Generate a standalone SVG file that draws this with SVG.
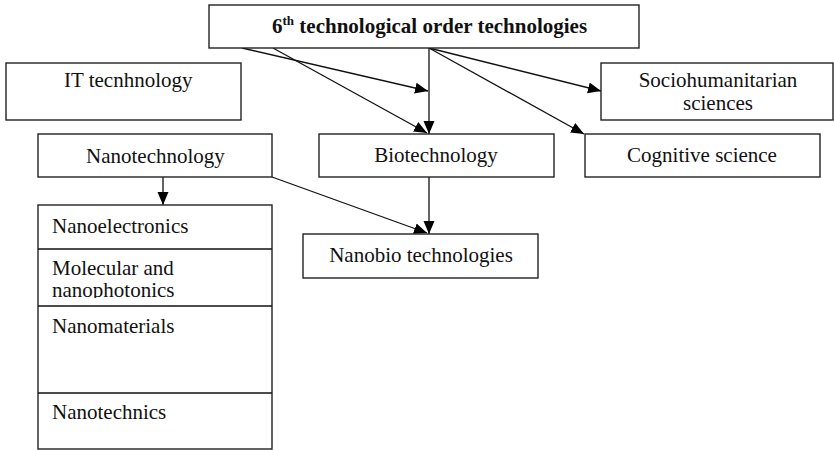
<svg xmlns="http://www.w3.org/2000/svg" width="834" height="450" viewBox="0 0 834 450">
<style>
.box{fill:#fff;stroke:#222;stroke-width:1.4}
.t{font-family:"Liberation Serif","Times New Roman",serif;font-size:21px;fill:#111}
.b{font-weight:bold}
.c{text-anchor:middle}
.ln{stroke:#111;stroke-width:1.3;fill:none}
</style>
<defs>
<marker id="ah" markerUnits="userSpaceOnUse" markerWidth="14" markerHeight="12" refX="13" refY="6" orient="auto">
<path d="M0,0.5 L13,6 L0,11.5 z" fill="#000"/>
</marker>
<clipPath id="clipMol"><rect x="38" y="249" width="234" height="49"/></clipPath>
</defs>
<rect width="834" height="450" fill="#fff"/>
<g id="connectors">
<line class="ln" x1="242" y1="48" x2="428" y2="91" marker-end="url(#ah)"/>
<line class="ln" x1="273" y1="48" x2="427" y2="133" marker-end="url(#ah)"/>
<line class="ln" x1="429" y1="48" x2="429" y2="134" marker-end="url(#ah)"/>
<line class="ln" x1="429" y1="48" x2="601" y2="91" marker-end="url(#ah)"/>
<line class="ln" x1="429" y1="48" x2="584" y2="134" marker-end="url(#ah)"/>
<line class="ln" x1="163" y1="177" x2="163" y2="205" marker-end="url(#ah)"/>
<line class="ln" x1="429" y1="177" x2="429" y2="234" marker-end="url(#ah)"/>
<line class="ln" x1="272" y1="177" x2="427" y2="233" marker-end="url(#ah)"/>
</g>
<g id="top">
<rect class="box" x="209" y="5" width="430" height="43"/>
<text class="t b" x="272" y="33">6<tspan font-size="13" dy="-8">th</tspan><tspan dy="8"> technological order technologies</tspan></text>
</g>
<g id="it">
<rect class="box" x="6" y="63" width="235" height="57"/>
<text class="t" x="64" y="87">IT tecnhnology</text>
</g>
<g id="socio">
<rect class="box" x="601" y="63" width="232" height="57"/>
<text class="t c" x="718" y="87">Sociohumanitarian</text>
<text class="t c" x="718" y="110">sciences</text>
</g>
<g id="nanotech">
<rect class="box" x="38" y="134" width="234" height="43"/>
<text class="t" x="86" y="163">Nanotechnology</text>
</g>
<g id="biotech">
<rect class="box" x="319" y="134" width="235" height="43"/>
<text class="t c" x="436" y="162">Biotechnology</text>
</g>
<g id="cognitive">
<rect class="box" x="585" y="134" width="235" height="43"/>
<text class="t c" x="702" y="162">Cognitive science</text>
</g>
<g id="nanobio">
<rect class="box" x="303" y="234" width="235" height="44"/>
<text class="t c" x="421" y="262">Nanobio technologies</text>
</g>
<g id="nanostack">
<rect class="box" x="38" y="205" width="234" height="244"/>
<line class="ln" x1="38" y1="249" x2="272" y2="249"/>
<line class="ln" x1="38" y1="306" x2="272" y2="306"/>
<line class="ln" x1="38" y1="393" x2="272" y2="393"/>
<text class="t" x="52" y="233">Nanoelectronics</text>
<g clip-path="url(#clipMol)">
<text class="t" x="52" y="275">Molecular and</text>
<text class="t" x="52" y="297">nanophotonics</text>
</g>
<text class="t" x="52" y="333">Nanomaterials</text>
<text class="t" x="52" y="419">Nanotechnics</text>
</g>
</svg>
